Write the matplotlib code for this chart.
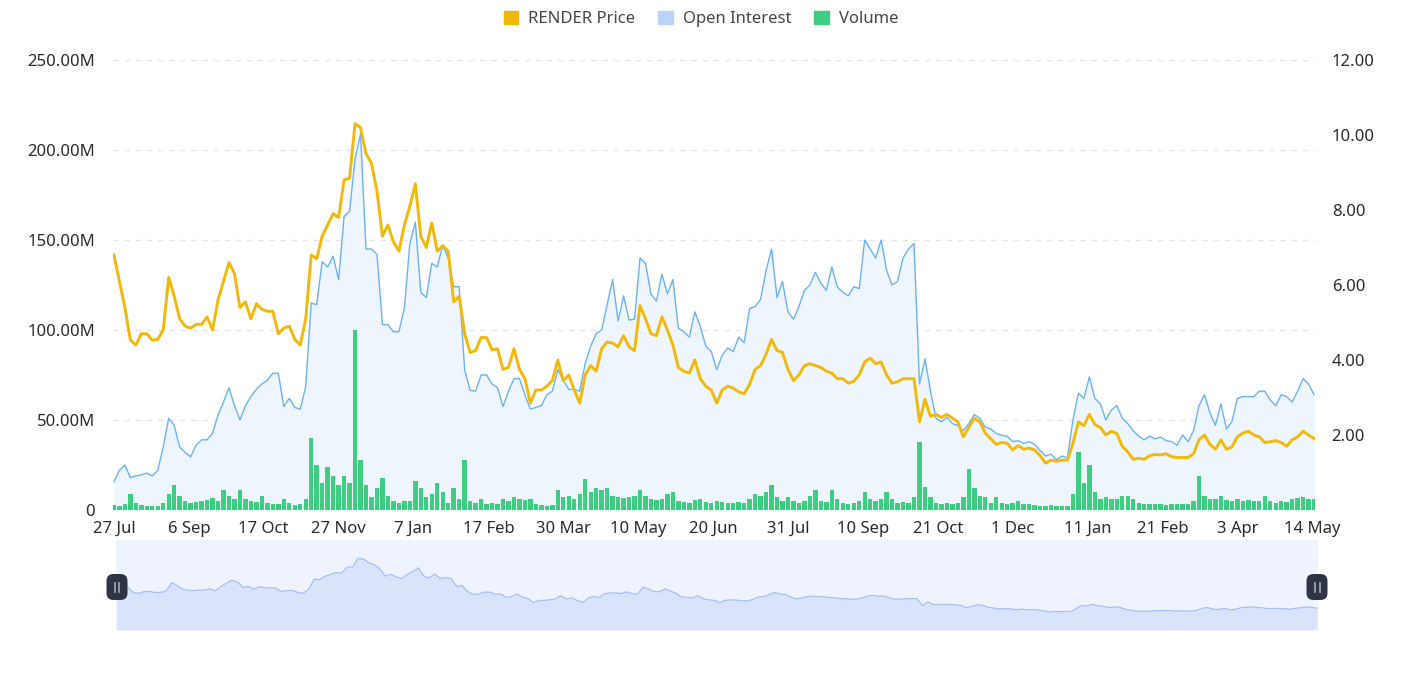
import matplotlib
matplotlib.use("Agg")
import matplotlib.pyplot as plt
import numpy as np
from matplotlib.patches import Patch, FancyBboxPatch
from matplotlib.lines import Line2D
from matplotlib.ticker import FuncFormatter

plt.rcParams['font.family'] = ['Noto Sans', 'DejaVu Sans']

# one sample every 3 days, 27 Jul -> 14 May
step = 3
price = [
    6.8, 6.1, 5.4, 4.53, 4.4, 4.7, 4.7, 4.53, 4.55, 4.8,
    6.2, 5.7, 5.1, 4.9, 4.85, 4.95, 4.95, 5.15, 4.8, 5.6,
    6.1, 6.6, 6.3, 5.4, 5.55, 5.1, 5.5, 5.35, 5.3, 5.3,
    4.7, 4.85, 4.9, 4.55, 4.4, 5.1, 6.8, 6.7, 7.3, 7.6,
    7.9, 7.8, 8.8, 8.85, 10.3, 10.2, 9.5, 9.25, 8.5, 7.3,
    7.6, 7.15, 6.9, 7.6, 8.1, 8.7, 7.3, 7.0, 7.65, 6.9,
    7.05, 6.9, 5.55, 5.7, 4.7, 4.2, 4.25, 4.6, 4.6, 4.27,
    4.3, 3.75, 3.8, 4.3, 3.75, 3.5, 2.85, 3.2, 3.2, 3.3,
    3.45, 4.0, 3.45, 3.6, 3.2, 2.85, 3.6, 3.85, 3.7, 4.3,
    4.48, 4.45, 4.35, 4.65, 4.35, 4.25, 5.45, 5.1, 4.7, 4.65,
    5.15, 4.8, 4.4, 3.8, 3.7, 3.65, 4.0, 3.5, 3.3, 3.2,
    2.85, 3.2, 3.3, 3.25, 3.15, 3.1, 3.35, 3.75, 3.85, 4.15,
    4.55, 4.25, 4.2, 3.75, 3.45, 3.6, 3.85, 3.9, 3.85, 3.8,
    3.7, 3.65, 3.5, 3.5, 3.38, 3.43, 3.6, 3.95, 4.05, 3.9,
    3.95, 3.6, 3.38, 3.42, 3.5, 3.5, 3.5, 2.35, 2.95, 2.5,
    2.55, 2.47, 2.55, 2.45, 2.35, 1.95, 2.2, 2.45, 2.35, 2.05,
    1.9, 1.75, 1.8, 1.78, 1.6, 1.72, 1.62, 1.65, 1.6, 1.45,
    1.25, 1.33, 1.3, 1.33, 1.33, 1.78, 2.35, 2.25, 2.55, 2.28,
    2.2, 2.0, 2.1, 2.04, 1.7, 1.55, 1.35, 1.38, 1.35, 1.45,
    1.48, 1.47, 1.5, 1.42, 1.4, 1.4, 1.4, 1.5, 1.87, 2.0,
    1.75, 1.62, 1.87, 1.62, 1.68, 1.95, 2.05, 2.1, 2.0, 1.95,
    1.8, 1.82, 1.85, 1.8, 1.7, 1.87, 1.95, 2.1, 2.0, 1.9,
]
open_interest = [  # millions
    15.7, 22, 25, 18, 19, 19.5, 20.5, 19, 22, 35,
    51, 47, 35, 32, 29.5, 36, 39, 39, 42.6, 52.8,
    60, 68, 58, 50, 58, 63, 67, 70, 72, 76,
    76, 57.5, 62, 57, 56, 68.5, 115, 114, 138, 135,
    141, 128, 163, 166, 195, 209, 145, 145, 142, 103,
    103, 99, 99, 112, 148, 160, 121, 118, 137, 135,
    147, 140, 124, 124, 78, 66.5, 66, 75, 75, 70,
    68, 57.4, 66, 73, 73, 64, 56, 57, 58, 64,
    66, 78, 72, 67, 67, 66, 81.5, 91, 98, 100,
    114, 128, 105, 119, 105.5, 106, 140, 137, 120, 116,
    131, 120, 128, 101, 99, 96, 110, 102, 91, 88,
    78, 86, 90, 88, 96, 93, 112, 113, 117, 133,
    145, 118, 127, 110, 106, 113, 122, 125, 132, 126,
    122, 135, 124, 121, 119, 124, 123, 150, 145, 140,
    150, 133, 125, 127, 140, 145, 148, 70, 84, 66,
    51, 49, 51.5, 48, 47, 44, 48, 53, 51, 46,
    45, 42.5, 41.5, 41, 38, 38.5, 37, 38, 36.5, 33,
    30, 31, 28, 30, 29, 50, 65, 62, 74, 62,
    59, 50, 55.5, 58, 51, 48, 44, 41, 39, 41,
    39.5, 40.5, 38.5, 38, 36, 41.7, 38, 44, 58, 64,
    54, 47, 59, 45, 49, 62, 63, 63, 63, 66,
    66, 61, 58, 64, 63, 60, 66, 73, 70, 64,
]
volume = [  # millions
    3, 2.5, 3.5, 9, 4, 3, 2.5, 2.5, 2, 4,
    9, 14, 8, 5, 4, 4.5, 5, 5.5, 6.5, 5,
    11, 8, 6, 11, 6, 5, 4.5, 8, 4, 3.5,
    3.5, 6, 4, 3, 3.5, 6, 40, 25, 15, 24,
    19, 14, 19, 15, 100, 28, 14, 7, 12, 18,
    8, 5, 4, 5, 5, 16, 12, 7, 9, 15,
    10, 4, 12, 6, 28, 5, 4, 6, 3.5, 4,
    3.5, 6, 5, 7, 6, 5.5, 6, 3.5, 3, 2.5,
    3, 11, 7, 8, 6, 9, 17, 10, 12, 11,
    12, 8, 7, 6.5, 7, 8, 11, 8, 6, 5.5,
    6, 9, 10, 5, 4.5, 4, 5.5, 6, 4.5, 4,
    5, 4.5, 4, 4, 4.5, 4, 6, 9, 8, 10,
    14, 7, 5, 7, 5, 4, 5, 8, 11, 5,
    4.5, 11, 6, 4, 3.5, 4, 5, 10, 6, 5,
    6, 10, 6, 4, 4.5, 4, 7, 38, 13, 7,
    4, 3.5, 4, 3.5, 4, 7, 23, 12, 8, 7,
    4, 7, 4, 3.5, 4, 5, 3.5, 3.5, 3, 2.5,
    2.5, 3, 2, 2, 2.5, 9, 32, 15, 25, 10,
    6, 7, 6, 6, 8, 8, 6, 4, 3.5, 3.5,
    3.5, 3.5, 3, 3.5, 3.5, 3.5, 3.5, 5, 19, 8,
    6, 6, 8, 5.5, 5, 6, 5, 5.5, 5, 5,
    8, 5, 4, 5, 4.5, 6, 6.5, 7, 6, 6,
]
tick_labels = ["27 Jul", "6 Sep", "17 Oct", "27 Nov", "7 Jan", "17 Feb", "30 Mar",
               "10 May", "20 Jun", "31 Jul", "10 Sep", "21 Oct", "1 Dec", "11 Jan",
               "21 Feb", "3 Apr", "14 May"]
tick_days = [41 * i for i in range(len(tick_labels))]

days = np.arange(len(price)) * step

C_PRICE = '#f0b90b'
C_OI = '#6cb2f2'
C_OI_FILL = '#eef5fd'
C_VOL = '#3fcd82'
TXT = '#2b2b2b'

W, H = 1402, 675
fig = plt.figure(figsize=(W / 100, H / 100), dpi=100)
fig.patch.set_facecolor('white')

ax = fig.add_axes([113 / W, 165 / H, 1202 / W, 450 / H])
ax.set_xlim(-0.5, 657.5)
ax.set_ylim(0, 250)
ax.fill_between(days, open_interest, 0, color=C_OI_FILL, lw=0, zorder=1)
ax.plot(days, open_interest, color=C_OI, lw=1.0, zorder=2)
ax.bar(days, volume, width=2.4, color=C_VOL, lw=0, zorder=3)

ax.set_yticks(np.arange(0, 251, 50))
ax.yaxis.set_major_formatter(FuncFormatter(lambda v, p: "0" if v == 0 else f"{v:.2f}M"))
ax.grid(axis='y', color='#e6e6e6', linestyle=(0, (4, 4)), linewidth=1, zorder=0)
ax.set_axisbelow(True)
ax.set_xticks(tick_days)
ax.set_xticklabels(tick_labels)
ax.tick_params(axis='both', length=0, labelsize=12, colors=TXT)
ax.tick_params(axis='y', pad=13)
ax.tick_params(axis='x', pad=8)
for s in ax.spines.values():
    s.set_visible(False)

ax2 = ax.twinx()
ax2.set_ylim(0, 12)
ax2.plot(days, price, color=C_PRICE, lw=2.1, solid_joinstyle='round', zorder=4)
ax2.set_yticks(np.arange(2, 13, 2))
ax2.yaxis.set_major_formatter(FuncFormatter(lambda v, p: f"{v:.2f}"))
ax2.tick_params(axis='y', length=0, labelsize=12, colors=TXT, pad=12)
for s in ax2.spines.values():
    s.set_visible(False)

# overview slider
nav = fig.add_axes([116 / W, 45 / H, 1202 / W, 90 / H])
nav.set_facecolor('#eef3fd')
nav.set_xlim(-0.5, 657.5)
nav.set_ylim(-1.8, 13.4)
nav.fill_between(days, price, -1.8, color='#d9e3fa', lw=0)
nav.plot(days, price, color='#a6bff4', lw=0.9)
nav.set_xticks([])
nav.set_yticks([])
for s in nav.spines.values():
    s.set_visible(False)

for hx in (117, 1317):
    cx, cy = hx / 100, (H - 587) / 100
    w, h = 0.21, 0.26
    fig.add_artist(FancyBboxPatch((cx - w / 2, cy - h / 2), w, h,
                                  boxstyle="round,pad=0,rounding_size=0.07",
                                  transform=fig.dpi_scale_trans, fc='#2f3346', ec='none'))
    for dx in (-0.025, 0.025):
        fig.add_artist(Line2D([cx + dx, cx + dx], [cy - 0.045, cy + 0.045],
                              transform=fig.dpi_scale_trans, color='#a3a8bb', lw=1.2))

handles = [Patch(color=C_PRICE), Patch(color='#bcd3f8'), Patch(color=C_VOL)]
leg = fig.legend(handles, ["RENDER Price", "Open Interest", "Volume"], loc='upper center',
                 bbox_to_anchor=(0.5, 1.0), ncol=3, frameon=False, fontsize=12,
                 handlelength=0.85, handleheight=0.85, handletextpad=0.6,
                 columnspacing=1.4, borderaxespad=0.25)
for t in leg.get_texts():
    t.set_color('#464646')

fig.savefig("out.png", dpi=100, facecolor='white')
